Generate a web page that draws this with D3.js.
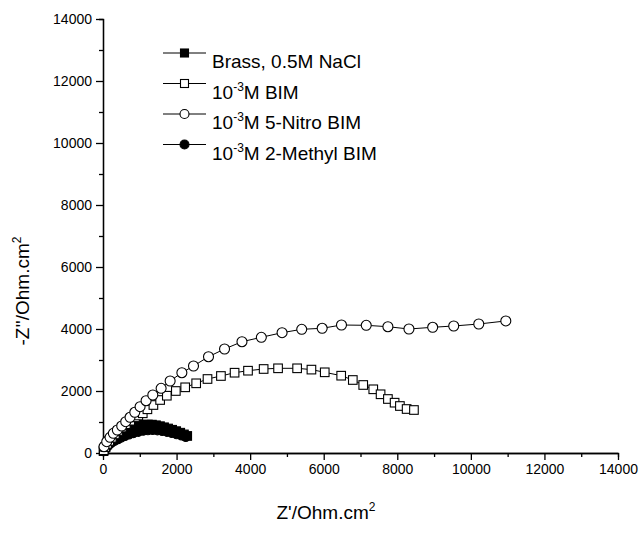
<!DOCTYPE html>
<html><head><meta charset="utf-8">
<script src="https://cdn.jsdelivr.net/npm/d3@7"></script>
<style>body{margin:0;background:#fff}svg{display:block}text{font-family:Arial,"Liberation Sans",Helvetica,sans-serif;fill:#000}</style>
</head><body>
<svg id="c" width="644" height="551"></svg>
<script>
const xTicks=[0,2000,4000,6000,8000,10000,12000,14000];
const yTicks=[0,2000,4000,6000,8000,10000,12000,14000];
const brassX=[15,40,75,115,160,215,275,345,420,500,590,685,785,890,1000,1110,1220,1330,1440,1550,1660,1770,1880,1990,2100,2200,2290];
const brassY=[60,130,200,270,340,410,480,545,610,670,725,775,820,860,890,910,920,915,895,865,830,790,750,705,655,600,550];
const bimX=[20,60,110,170,240,320,410,510,620,740,870,960,1081,1207,1370,1553,1735,1980,2234,2533,2841,3206,3577,3942,4367,4759,5277,5666,6028,6475,6791,7074,7347,7546,7745,7927,8071,8254,8453];
const bimY=[90,190,290,390,490,600,710,820,930,1040,1150,1210,1281,1410,1548,1710,1848,2000,2119,2248,2387,2484,2590,2655,2710,2732,2732,2690,2603,2494,2355,2194,2055,1894,1742,1623,1516,1419,1387];
const nitroX=[27,101,191,281,390,509,618,735,864,1008,1171,1354,1580,1825,2144,2460,2868,3304,3778,4304,4868,5402,5958,6483,7156,7745,8317,8962,9534,10215,10950];
const nitroY=[203,365,506,635,742,871,1010,1152,1313,1494,1687,1871,2087,2323,2590,2806,3106,3355,3590,3732,3881,3990,4023,4129,4119,4074,4000,4055,4097,4161,4260];
const methylX=[20,60,110,170,240,320,410,500,600,710,830,960,1090,1220,1350,1480,1610,1740,1870,2000,2130,2250];
const methylY=[50,120,190,255,320,380,430,480,530,580,625,665,700,720,725,715,695,665,630,590,550,500];

const svg=d3.select("#c");
const x=d3.scaleLinear().domain([0,14000]).range([103,618]);
const y=d3.scaleLinear().domain([0,14000]).range([453,19]);

const xa=svg.append("g").attr("transform","translate(0,453)")
  .call(d3.axisBottom(x).tickValues(xTicks).tickSize(7).tickPadding(4).tickFormat(d3.format("d")));
const ya=svg.append("g").attr("transform","translate(103,0)")
  .call(d3.axisLeft(y).tickValues(yTicks).tickSize(7).tickPadding(4).tickFormat(d3.format("d")));
const minor=d3.range(1000,14000,2000);
svg.append("g").attr("transform","translate(0,453)")
  .call(d3.axisBottom(x).tickValues(minor).tickSize(4).tickFormat(""));
svg.append("g").attr("transform","translate(103,0)")
  .call(d3.axisLeft(y).tickValues(minor).tickSize(4).tickFormat(""));
svg.selectAll(".domain").attr("stroke","#000").attr("stroke-width",1.3);
svg.selectAll(".tick line").attr("stroke","#000").attr("stroke-width",1.3);
svg.selectAll(".tick text").attr("font-size",14).attr("font-family","Arial, Liberation Sans, sans-serif");
xa.select(".domain").attr("d","M103,0.5H618");
ya.select(".domain").attr("d","M0.5,453V19");

const series=[
 {xs:methylX,ys:methylY,shape:"circle",fill:"#000"},
 {xs:brassX,ys:brassY,shape:"square",fill:"#000"},
 {xs:bimX,ys:bimY,shape:"square",fill:"#fff"},
 {xs:nitroX,ys:nitroY,shape:"circle",fill:"#fff"}
];
const line=d3.line().x(d=>x(d[0])).y(d=>y(d[1]));
series.forEach(s=>{
  const pts=s.xs.map((v,i)=>[v,s.ys[i]]);
  const g=svg.append("g");
  g.append("path").attr("d",line(pts)).attr("fill","none").attr("stroke","#000").attr("stroke-width",1);
  pts.forEach(p=>{
    if(s.shape==="circle") g.append("circle").attr("cx",x(p[0])).attr("cy",y(p[1])).attr("r",s.fill==="#000"?4:5)
      .attr("fill",s.fill).attr("stroke","#000").attr("stroke-width",1.1);
    else g.append("rect").attr("x",x(p[0])-4.3).attr("y",y(p[1])-4.3).attr("width",8.6).attr("height",8.6)
      .attr("fill",s.fill).attr("stroke","#000").attr("stroke-width",1.1);
  });
});

const leg=[
 {shape:"square",fill:"#000",parts:[["Brass, 0.5M NaCl",false]]},
 {shape:"square",fill:"#fff",parts:[["10",false],["-3",true],["M BIM",false]]},
 {shape:"circle",fill:"#fff",parts:[["10",false],["-3",true],["M 5-Nitro BIM",false]]},
 {shape:"circle",fill:"#000",parts:[["10",false],["-3",true],["M 2-Methyl BIM",false]]}
];
leg.forEach((l,i)=>{
  const cy=53+i*30.5, x0=163, x1=206, cx=(x0+x1)/2;
  svg.append("line").attr("x1",x0).attr("x2",x1).attr("y1",cy).attr("y2",cy).attr("stroke","#000").attr("stroke-width",1);
  if(l.shape==="circle") svg.append("circle").attr("cx",cx).attr("cy",cy).attr("r",4.5).attr("fill",l.fill).attr("stroke","#000").attr("stroke-width",1.1);
  else svg.append("rect").attr("x",cx-4).attr("y",cy-4).attr("width",8).attr("height",8).attr("fill",l.fill).attr("stroke","#000").attr("stroke-width",1.1);
  const t=svg.append("text").attr("x",212).attr("y",cy+7).attr("font-size",19);
  l.parts.forEach(p=>{
    if(p[1]) t.append("tspan").attr("dy",-8).attr("font-size",12).text(p[0]);
    else t.append("tspan").attr("dy",t.selectAll("tspan").size()>0?8:0).text(p[0]);
  });
});

const xt=svg.append("text").attr("x",326).attr("y",519).attr("text-anchor","middle").attr("font-size",19);
xt.append("tspan").text("Z'/Ohm.cm");
xt.append("tspan").attr("dy",-8).attr("font-size",12).text("2");
const yt=svg.append("text").attr("transform","translate(29,291) rotate(-90)").attr("text-anchor","middle").attr("font-size",19);
yt.append("tspan").text("-Z''/Ohm.cm");
yt.append("tspan").attr("dy",-8).attr("font-size",12).text("2");
</script>
</body></html>
